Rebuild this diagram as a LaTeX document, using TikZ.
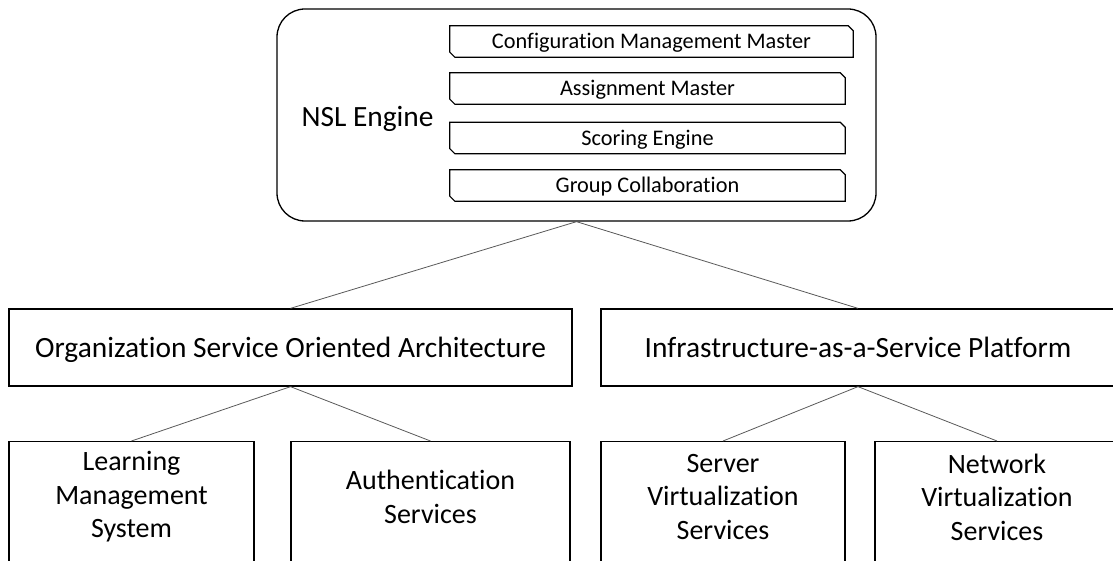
\documentclass[tikz,border=0pt]{standalone}
\usepackage{fontspec}
\setmainfont[Ligatures={NoCommon}]{Carlito}
\begin{document}
\begin{tikzpicture}[x=1pt,y=-1pt,
  frame/.style={draw=black, line width=1.3pt, inner sep=0pt},
  label/.style={inner sep=0pt, align=center, font=\fontsize{28}{33.5}\selectfont},
  biglabel/.style={inner sep=0pt, font=\fontsize{29.4}{34}\selectfont, text height=19pt, text depth=0pt},
  subbox/.style={inner sep=0pt, minimum height=31pt, font=\fontsize{22.3}{26}\selectfont, text height=14.3pt, text depth=0pt},
  snip/.style={draw=black, line width=1.2pt},
  link/.style={draw=black!65, line width=0.8pt}]
\useasboundingbox (0,0) rectangle (1113,561);
\clip (0,0) rectangle (1113,561);

% engine container
\node[frame, rounded corners=28pt, minimum width=599pt, minimum height=212pt] (nsl) at (576.5,115) {};
\node[biglabel] (nsltext) at (367.5,117) {NSL Engine};

% engine components
\node[subbox, minimum width=403pt] (cfg)    at (651.5,41.5)  {Configuration Management Master};
\node[subbox, minimum width=395pt] (assign) at (647.5,88.5)  {Assignment Master};
\node[subbox, minimum width=395pt] (score)  at (647.5,138)   {Scoring Engine};
\node[subbox, minimum width=395pt] (group)  at (647.5,185.5) {Group Collaboration};
\foreach \n in {cfg,assign,score,group}{
  \draw[snip] (\n.north west) -- ([xshift=-5pt]\n.north east) -- ([yshift=-5pt]\n.north east)
    -- (\n.south east) -- ([xshift=5pt]\n.south west) -- ([yshift=5pt]\n.south west) -- cycle;
}

% platform layer
\node[frame, biglabel, minimum width=563pt, minimum height=77pt] (soa)  at (290.5,347.5) {Organization Service Oriented Architecture};
\node[frame, biglabel, minimum width=514pt, minimum height=77pt] (iaas) at (858,347.5)   {Infrastructure-as-a-Service Platform};

% service layer
\node[frame, anchor=north, minimum width=245pt, minimum height=160pt] (lms) at (131.5,441) {};
\node[frame, anchor=north, minimum width=279pt, minimum height=160pt] (auth) at (430.5,441) {};
\node[frame, anchor=north, minimum width=244pt, minimum height=160pt] (server) at (723,441) {};
\node[frame, anchor=north, minimum width=244pt, minimum height=160pt] (network) at (997,441) {};
\node[label] (lmstext)     at ([yshift=-56pt]lms.north)     {Learning\\Management\\System};
\node[label] (authtext)    at ([yshift=-56pt]auth.north)    {Authentication\\Services};
\node[label] (servertext)  at ([yshift=-56pt]server.north)  {Server\\Virtualization\\Services};
\node[label] (networktext) at ([yshift=-56pt]network.north) {Network\\Virtualization\\Services};

% connectors
\draw[link] (nsl.south) -- (soa.north);
\draw[link] (nsl.south) -- (iaas.north);
\draw[link] (soa.south) -- (lms.north);
\draw[link] (soa.south) -- (auth.north);
\draw[link] (iaas.south) -- (server.north);
\draw[link] (iaas.south) -- (network.north);
\end{tikzpicture}
\end{document}
